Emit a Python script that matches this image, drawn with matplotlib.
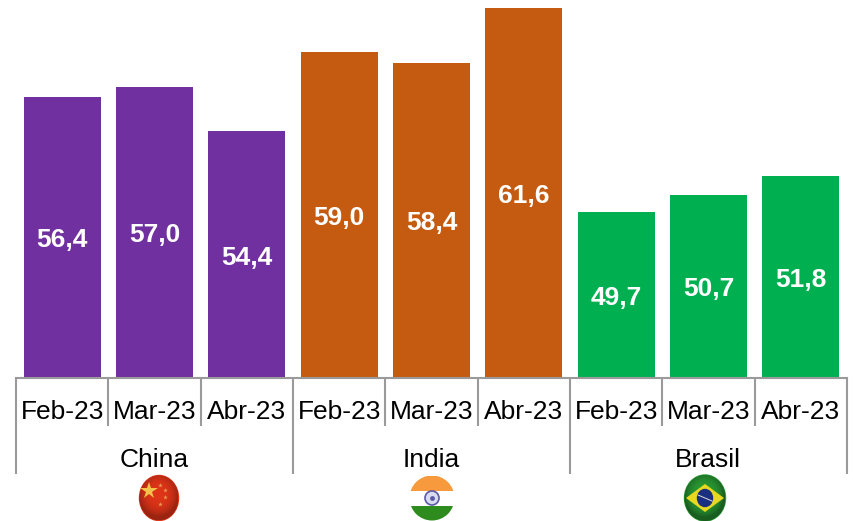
import numpy as np
from matplotlib import pyplot as plt
from matplotlib.patches import Ellipse, Rectangle

plt.rcParams['font.family'] = ['Liberation Sans', 'DejaVu Sans']

months = ['Feb-23', 'Mar-23', 'Abr-23']
countries = ['China', 'India', 'Brasil']
china = [56.4, 57.0, 54.4]
india = [59.0, 58.4, 61.6]
brasil = [49.7, 50.7, 51.8]
colors = ['#7030A0', '#C55A11', '#00B050']

W, H = 854, 521
GRAY = '#9a9a9a'
PX = 0.72  # px to points at dpi 100

fig = plt.figure(figsize=(W / 100, H / 100), dpi=100, facecolor='white')
ax = fig.add_axes([16.2 / W, 1 - 378 / H, (846.8 - 16.2) / W, 378 / H])

values = china + india + brasil
bar_colors = [c for c in colors for _ in months]
x = np.arange(len(values))
ax.bar(x, values, width=0.835, color=bar_colors)
ax.set_xlim(-0.5, 8.5)
ax.set_ylim(40, 62.05)

for s in ['top', 'left', 'right']:
    ax.spines[s].set_visible(False)
ax.spines['bottom'].set_color(GRAY)
ax.spines['bottom'].set_linewidth(1.5)
ax.set_yticks([])

# short ticks between months, long ones between countries
edges = np.arange(len(values) + 1) - 0.5
ax.set_xticks(edges[::3])
ax.set_xticks(edges, minor=True)
ax.tick_params(axis='x', which='major', length=96 * PX, width=1.5, color=GRAY, labelbottom=False)
ax.tick_params(axis='x', which='minor', length=48 * PX, width=1.5, color=GRAY)

trans = ax.get_xaxis_transform()
for i, v in enumerate(values):
    ax.annotate(f'{v:.1f}'.replace('.', ','), (i, (40 + v) / 2), xytext=(0, -3 * PX), textcoords='offset points',
                ha='center', va='center', color='white', fontsize=19, fontweight='bold')
    ax.annotate(months[i % 3], (i, 0), xycoords=trans, xytext=(0, -34 * PX), textcoords='offset points',
                ha='center', va='center', fontsize=19, color='black')

for i, name in enumerate(countries):
    ax.annotate(name, (3 * i + 1, 0), xycoords=trans, xytext=(0, -82 * PX), textcoords='offset points',
                ha='center', va='center', fontsize=19, color='black')

# flags, drawn in pixel coordinates on an overlay
ov = fig.add_axes([0, 0, 1, 1], facecolor='none')
ov.set_xlim(0, W)
ov.set_ylim(H, 0)
ov.axis('off')


def shade(cx, cy, rx, ry, strength):
    yy, xx = np.mgrid[0:1:90j, 0:1:90j]
    d = np.hypot(xx - 0.5, yy - 0.42) * 2
    alpha = np.clip(d, 0, 1) ** 3 * strength
    im = ov.imshow(np.zeros_like(alpha), cmap='gray', vmin=0, vmax=1, alpha=alpha,
                   extent=(cx - rx, cx + rx, cy + ry, cy - ry), zorder=5, aspect='auto')
    im.set_clip_path(Ellipse((cx, cy), 2 * rx, 2 * ry, transform=ov.transData))


# China
cx, cy, rx, ry = 159, 498, 19.5, 22.5
ov.add_patch(Ellipse((cx, cy), 2 * rx, 2 * ry, color='#DE3418', zorder=2))
shade(cx, cy, rx, ry, 0.3)
ov.plot([cx - 10], [cy - 7], marker='*', ms=13, color='#F2C24A', mew=0, zorder=6)
for dx, dy in [(1, -13), (6, -8), (6, -1), (1, 6)]:
    ov.plot([cx + dx], [cy + dy], marker='*', ms=3.5, color='#E89A50', mew=0, zorder=6)

# India
cx, cy, r = 432, 498, 22.5
clip = Ellipse((cx, cy), 2 * r, 2 * r, transform=ov.transData)
for top, h, c in [(cy - r, 15, '#F79A3E'), (cy - r + 15, 15, 'white'), (cy - r + 30, 15, '#2E8B1E')]:
    band = Rectangle((cx - r, top), 2 * r, h, color=c, lw=0, zorder=2)
    ov.add_patch(band)
    band.set_clip_path(clip)
ov.add_patch(Ellipse((cx, cy), 14, 14, fc='#DADAF0', ec='#5A5AA8', lw=1.2, zorder=3))
ov.plot([cx], [cy], marker='o', ms=3.5, color='#5A5AA8', mew=0, zorder=3)

# Brasil
cx, cy, rx, ry = 705, 498, 20.5, 23
ov.add_patch(Ellipse((cx, cy), 2 * rx, 2 * ry, color='#2A9A34', zorder=2))
shade(cx, cy, rx, ry, 0.4)
ov.fill([cx - 19, cx, cx + 19, cx], [cy, cy - 14, cy, cy + 14], color='#E8D820', lw=0, zorder=6)
ov.add_patch(Ellipse((cx, cy), 15, 17, color='#1A2F80', zorder=7))
ov.plot([cx - 7, cx + 7], [cy - 3, cy + 3], color='#DDDDDD', lw=0.7, zorder=8)

fig.savefig('out.png', dpi=100)
